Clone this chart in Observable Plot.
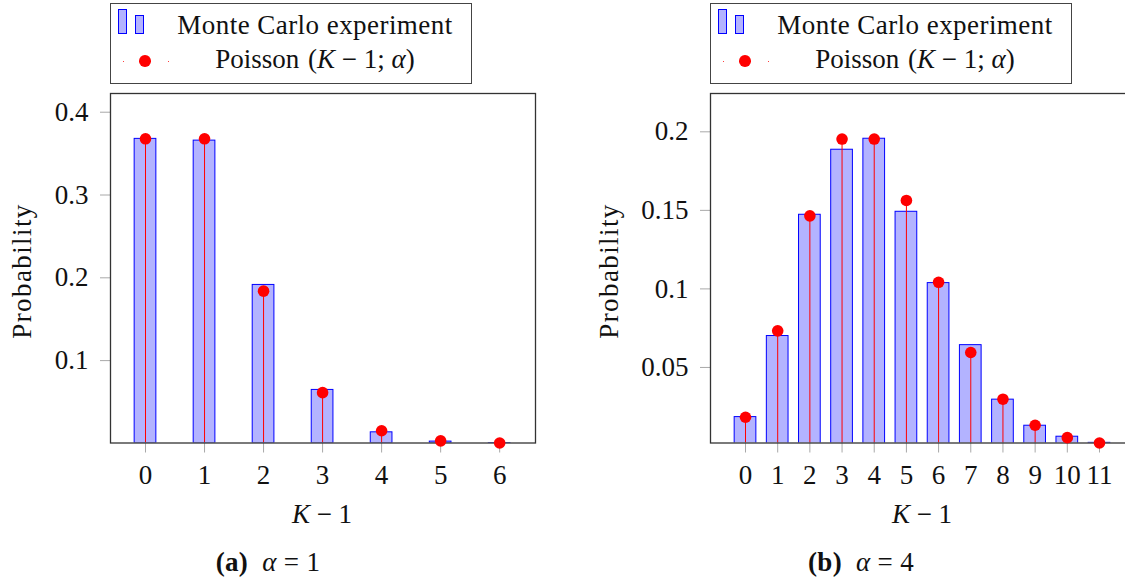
<!DOCTYPE html>
<html>
<head>
<meta charset="utf-8">
<script src="https://cdn.jsdelivr.net/npm/d3@7"></script>
<script src="https://cdn.jsdelivr.net/npm/@observablehq/plot@0.6"></script>
<style>
  body { margin: 0; background: white; }
  #wrap { position: relative; width: 1125px; height: 582px; overflow: hidden; background: white;
          font-family: "Liberation Serif", serif; font-size: 27px; color: #111; }
  .abs { position: absolute; white-space: nowrap; line-height: 27px; }
  .legend { position: absolute; box-sizing: border-box; border: 1.3px solid #444; background: white; }
  .lbar { position: absolute; box-sizing: border-box; background: #b3b3ff; border: 1px solid #0000ff; }
  .ldot { position: absolute; border-radius: 50%; background: #ff0000; }
  .center { text-align: center; }
  svg { max-width: none !important; }
</style>
</head>
<body>
<div id="wrap"></div>
<script>
// ---------- data ----------
const kA = [0, 1, 2, 3, 4, 5, 6];
const monteCarloA = [0.3678, 0.3657, 0.1914, 0.0646, 0.0134, 0.0022, 0.0005];
const poissonA    = [0.3679, 0.3679, 0.1839, 0.0613, 0.0153, 0.0031, 0.0005];
const yTicksA = [0.1, 0.2, 0.3, 0.4];

const kB = [0, 1, 2, 3, 4, 5, 6, 7, 8, 9, 10, 11];
const monteCarloB = [0.0184, 0.0700, 0.1472, 0.1886, 0.1956, 0.1491, 0.1037, 0.0642, 0.0295, 0.0129, 0.0059, 0.0020];
const poissonB    = [0.0183, 0.0733, 0.1465, 0.1954, 0.1954, 0.1563, 0.1042, 0.0595, 0.0298, 0.0132, 0.0053, 0.0019];
const yTicksB = [0.05, 0.1, 0.15, 0.2];

const legendLabels = ["Monte Carlo experiment", "Poisson"];
const captions = [["(a)", "1"], ["(b)", "4"]];

// ---------- chart ----------
const FONT = "'Liberation Serif', serif";
const wrap = document.getElementById("wrap");

function panel({k, mc, pois, yTicks, xDomain, yDomain, width, height, margins, barPx}) {
  const bars = k.map((d, i) => ({k: d, v: mc[i]}));
  const pts = k.map((d, i) => ({k: d, v: pois[i]}));
  const frameW = width - margins.marginLeft - margins.marginRight;
  const half = (barPx / 2) * (xDomain[1] - xDomain[0]) / frameW;
  const svg = Plot.plot({
    width, height, ...margins,
    style: {fontFamily: FONT, fontSize: "27px", color: "#111", background: "transparent", overflow: "visible"},
    x: {type: "linear", domain: xDomain, axis: null},
    y: {type: "linear", domain: yDomain, axis: null},
    marks: [
      Plot.rectY(bars, {x1: d => d.k - half, x2: d => d.k + half, y1: 0, y2: "v",
        fill: "#b3b3ff", stroke: "#0000ff", strokeWidth: 1, clip: true}),
      Plot.ruleX(pts, {x: "k", y1: 0, y2: "v", stroke: "#ff0000", strokeWidth: 1, clip: true}),
      Plot.axisX({ticks: k, tickSize: 10, tickPadding: 12, stroke: "#a8a8a8", fill: "#111", label: null, tickFormat: d => String(d)}),
      Plot.axisY({ticks: yTicks, tickSize: 10, tickPadding: 12, stroke: "#a8a8a8", fill: "#111", label: null, tickFormat: d => String(d)}),
      Plot.frame({stroke: "#333", strokeWidth: 1.3}),
      Plot.dot(pts, {x: "k", y: "v", r: 5.8, fill: "#ff0000", stroke: "none"})
    ]
  });
  svg.style.maxWidth = "none";
  svg.style.width = width + "px";
  svg.style.height = height + "px";
  return svg;
}

const svgA = panel({
  k: kA, mc: monteCarloA, pois: poissonA, yTicks: yTicksA,
  xDomain: [-0.593, 6.607], yDomain: [0.0005, 0.4226],
  width: 560, height: 582,
  margins: {marginLeft: 110, marginRight: 25, marginTop: 93, marginBottom: 139.5},
  barPx: 21.7
});
const divA = document.createElement("div");
divA.style.cssText = "position:absolute;left:0;top:0;width:560px;height:582px;";
divA.appendChild(svgA);
wrap.appendChild(divA);

const svgB = panel({
  k: kB, mc: monteCarloB, pois: poissonB, yTicks: yTicksB,
  xDomain: [-1.088, 12.088], yDomain: [0.0019, 0.2244],
  width: 580, height: 582,
  margins: {marginLeft: 150, marginRight: 6, marginTop: 93, marginBottom: 139.5},
  barPx: 21.7
});
const divB = document.createElement("div");
divB.style.cssText = "position:absolute;left:560px;top:0;width:580px;height:582px;";
divB.appendChild(svgB);
wrap.appendChild(divB);

// ---------- legends, axis titles, captions (HTML text) ----------
function add(html, css, cls = "abs") {
  const d = document.createElement("div");
  d.className = cls;
  d.style.cssText = css;
  d.innerHTML = html;
  wrap.appendChild(d);
  return d;
}

[0, 600].forEach((ox, p) => {
  add("", `left:${110 + ox}px;top:3px;width:362px;height:80.5px;`, "legend");
  add("", `left:${118 + ox}px;top:8.5px;width:9px;height:25px;`, "lbar");
  add("", `left:${134.5 + ox}px;top:15px;width:9px;height:18.5px;`, "lbar");
  add("", `left:${139.2 + ox}px;top:55.2px;width:11.6px;height:11.6px;`, "ldot");
  add("", `left:${122.5 + ox}px;top:60.5px;width:1.2px;height:1.2px;`, "ldot");
  add("", `left:${168 + ox}px;top:60.5px;width:1.2px;height:1.2px;`, "ldot");
  add(legendLabels[0], `left:${165 + ox}px;top:11.5px;width:300px;letter-spacing:0.45px;`, "abs center");
  add(`${legendLabels[1]} <span style="margin-left:2px">(<i>K</i> &minus; 1; <i>α</i>)</span>`,
      `left:${165 + ox}px;top:45.5px;width:300px;`, "abs center");

  // y-axis title
  const yx = p === 0 ? 22 : 609;
  add("Probability", `left:${yx}px;top:271px;transform:translate(-50%,-50%) rotate(-90deg);letter-spacing:1.4px;`);
  // x-axis title
  const cx = p === 0 ? 322 : 922;
  add(`<i>K</i> &minus; 1`, `left:${cx - 150}px;top:501px;width:300px;`, "abs center");
  // caption
  const capx = p === 0 ? 268 : 861;
  add(`<b>${captions[p][0]}</b>&nbsp; <i>α</i> = ${captions[p][1]}`, `left:${capx - 150}px;top:549px;width:300px;letter-spacing:0.3px;`, "abs center");
});
</script>
</body>
</html>
